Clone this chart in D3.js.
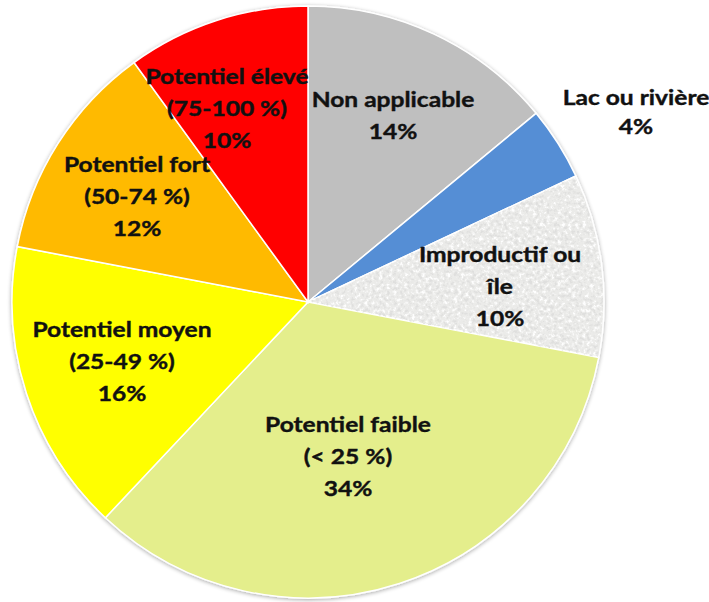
<!DOCTYPE html>
<html><head><meta charset="utf-8">
<script src="https://cdn.jsdelivr.net/npm/d3@7"></script>
<style>html,body{margin:0;padding:0;background:#fff;}svg{display:block;}</style>
</head><body>
<svg id="chart" width="709" height="602"></svg>
<script>
const categories = ["Non applicable","Lac ou rivière","Improductif ou île","Potentiel faible","Potentiel moyen","Potentiel fort","Potentiel élevé"];
const values = [14, 4, 10, 34, 16, 12, 10];
const labelLines = [
  ["Non applicable","14%"],
  ["Lac ou rivière","4%"],
  ["Improductif ou","île","10%"],
  ["Potentiel faible","(< 25 %)","34%"],
  ["Potentiel moyen","(25-49 %)","16%"],
  ["Potentiel fort","(50-74 %)","12%"],
  ["Potentiel élevé","(75-100 %)","10%"]
];
const colors = ["#BFBFBF","#558ED5","#EBEBE9","#E4EE8C","#FFFF00","#FFBA00","#FF0000"];
// label anchor (x, first baseline) in px
const labelPos = [[393,107],[636,105],[500,262],[348,432],[122,337],[137,172],[227,84]];

const svg = d3.select("#chart");
const defs = svg.append("defs");
const gr = defs.append("filter").attr("id","granite").attr("x",0).attr("y",0).attr("width","100%").attr("height","100%");
gr.append("feTurbulence").attr("type","fractalNoise").attr("baseFrequency",0.28).attr("numOctaves",3).attr("seed",7).attr("result","n");
gr.append("feColorMatrix").attr("in","n").attr("type","matrix")
  .attr("values","0 0 0 0 0.74  0 0 0 0 0.74  0 0 0 0 0.73  -5 0 0 0 2.35").attr("result","dark");
gr.append("feColorMatrix").attr("in","n").attr("type","matrix")
  .attr("values","0 0 0 0 0.99  0 0 0 0 0.99  0 0 0 0 0.99  5 0 0 0 -2.75").attr("result","light");
const mg = gr.append("feMerge").attr("result","tex");
mg.append("feMergeNode").attr("in","dark"); mg.append("feMergeNode").attr("in","light");
gr.append("feComposite").attr("in","tex").attr("in2","SourceGraphic").attr("operator","in");

const f = defs.append("filter").attr("id","shadow").attr("x","-10%").attr("y","-10%").attr("width","120%").attr("height","120%");
f.append("feGaussianBlur").attr("in","SourceAlpha").attr("stdDeviation",2);
f.append("feOffset").attr("dx",0).attr("dy",1).attr("result","b");
f.append("feComponentTransfer").append("feFuncA").attr("type","linear").attr("slope",0.35);
const m = f.append("feMerge"); m.append("feMergeNode"); m.append("feMergeNode").attr("in","SourceGraphic");

const cx = 308, cy = 302, r = 296;
const pie = d3.pie().sort(null).value(d=>d)(values);
const arc = d3.arc().innerRadius(0).outerRadius(r);
const g = svg.append("g").attr("transform",`translate(${cx},${cy})`);
g.append("g").attr("filter","url(#shadow)").selectAll("path").data(pie).join("path")
  .attr("d",arc).attr("fill",(d,i)=>colors[i]).attr("stroke","#fff").attr("stroke-width",1.5);
// texture overlay on "Improductif ou île"
g.append("path").attr("d",arc.innerRadius(0).outerRadius(r-1)(pie[2])).attr("fill","#000").attr("filter","url(#granite)");

const lbl = svg.append("g").attr("font-family","Lato, 'Open Sans', sans-serif").attr("font-weight","bold")
  .attr("font-size",21).attr("fill","#111").attr("text-anchor","middle")
  .attr("stroke","#111").attr("stroke-width",0.4);
labelLines.forEach((lines,i)=>{
  const t = lbl.append("text").attr("transform",`translate(${labelPos[i][0]},${labelPos[i][1]}) scale(1.17,1)`);
  lines.forEach((s,j)=>t.append("tspan").attr("x",0).attr("dy",j===0?0:(i===1?29:32)).text(s));
});
</script>
</body></html>
